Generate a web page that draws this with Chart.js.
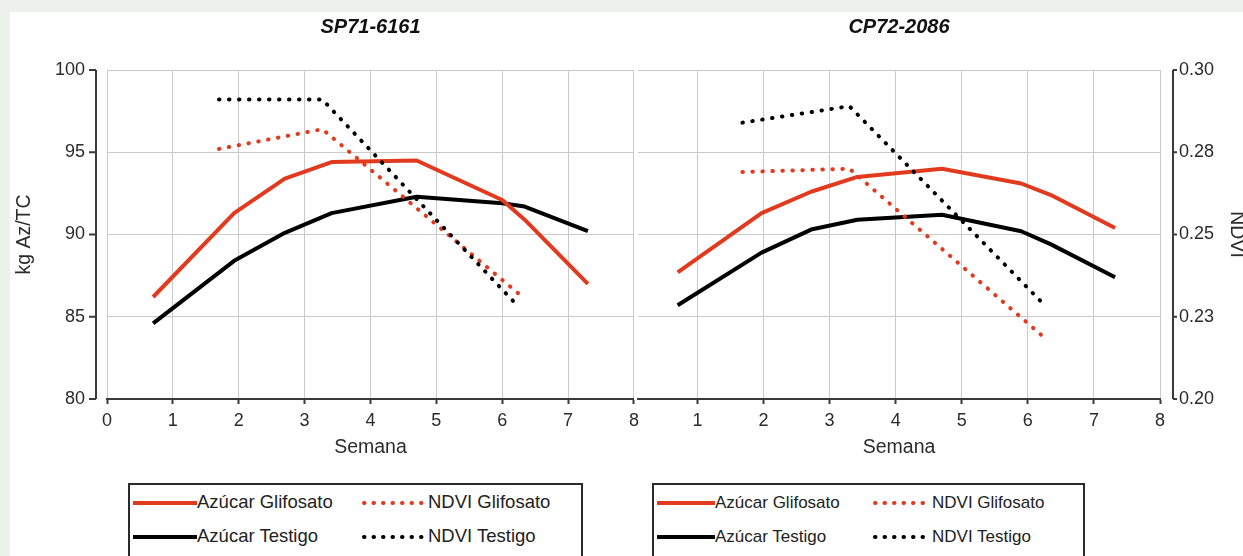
<!DOCTYPE html>
<html>
<head>
<meta charset="utf-8">
<script src="https://cdn.jsdelivr.net/npm/chart.js@4.4.1/dist/chart.umd.min.js"></script>
<style>
  html, body { margin: 0; padding: 0; }
  body { width: 1243px; height: 556px; overflow: hidden; background: #edf0ec; position: relative;
         font-family: "Liberation Sans", Arial, sans-serif; }
  #card { position: absolute; left: 10px; top: 12px; right: 0; bottom: 0; background: #fff; }
  canvas { position: absolute; top: 12px; }
  #c1 { left: 10px; }
  #c2 { left: 636px; }
  .legend { position: absolute; top: 483px; height: 100px; border: 2px solid #2a2a2a; box-sizing: border-box; }
  .legend svg, .legend span { position: absolute; }
  .legend span { white-space: nowrap; color: #222; line-height: 1; }
</style>
</head>
<body>
<div id="card"></div>
<canvas id="c1" width="635" height="447"></canvas>
<canvas id="c2" width="607" height="447"></canvas>
<div id="leg1" class="legend" style="left:128px;width:455px"></div>
<div id="leg2" class="legend" style="left:652px;width:433px"></div>
<script>
const titles = ['SP71-6161', 'CP72-2086'];
const seriesNames = ['Azúcar Glifosato', 'Azúcar Testigo', 'NDVI Glifosato', 'NDVI Testigo'];
const semanaTicks = [0, 1, 2, 3, 4, 5, 6, 7, 8];
const ndviTickLabels = ['0.20', '0.23', '0.25', '0.28', '0.30'];

// SP71-6161
const spSemanaAz = [0.7, 1.93, 2.7, 3.41, 4.7, 6.0, 6.34, 7.3];
const spAzGlifosato = [86.2, 91.3, 93.4, 94.4, 94.5, 92.1, 90.9, 87.0];
const spAzTestigo = [84.6, 88.4, 90.1, 91.3, 92.3, 91.9, 91.7, 90.2];
const spSemanaNdvi = [1.7, 3.27, 6.25];
const spNdviGlifosato = [0.276, 0.282, 0.232];
const spNdviTestigo = [0.291, 0.291, 0.228];

// CP72-2086
const cpSemanaAz = [0.7, 1.97, 2.72, 3.42, 4.7, 5.9, 6.35, 7.32];
const cpAzGlifosato = [87.7, 91.3, 92.6, 93.5, 94.0, 93.1, 92.4, 90.4];
const cpAzTestigo = [85.7, 88.9, 90.3, 90.9, 91.2, 90.2, 89.4, 87.4];
const cpSemanaNdvi = [1.68, 3.3, 6.23];
const cpNdviGlifosato = [0.269, 0.270, 0.219];
const cpNdviTestigo = [0.284, 0.289, 0.229];

const red = '#e23a1e';
const axisColor = '#3a3a3a';
const gridColor = '#cacaca';
const textColor = '#2b2b2b';
const family = '"Liberation Sans", Arial, sans-serif';

const pts = (xs, ys) => xs.map((x, i) => ({ x, y: ys[i] }));
const dotted = { borderWidth: 4, borderDash: [0.5, 9.5], borderCapStyle: 'round' };

function datasets(semAz, azG, azT, semN, nG, nT) {
  return [
    { label: seriesNames[3], data: pts(semN, nT), yAxisID: 'y2', borderColor: '#000', ...dotted },
    { label: seriesNames[2], data: pts(semN, nG), yAxisID: 'y2', borderColor: red, ...dotted },
    { label: seriesNames[0], data: pts(semAz, azG), yAxisID: 'y', borderColor: red, borderWidth: 4 },
    { label: seriesNames[1], data: pts(semAz, azT), yAxisID: 'y', borderColor: '#000', borderWidth: 4 }
  ];
}

// y axes sit a little away from the plot area, so draw them here
const offsetAxis = {
  id: 'offsetAxis',
  afterDraw(chart, args, opts) {
    const s = chart.scales[opts.axis];
    const { ctx, chartArea: a } = chart;
    const dir = opts.side === 'left' ? -1 : 1;
    const x = opts.side === 'left' ? a.left - opts.gap : a.right + opts.gap;
    ctx.save();
    ctx.strokeStyle = axisColor;
    ctx.lineWidth = 2;
    ctx.beginPath();
    ctx.moveTo(x, a.top);
    ctx.lineTo(x, a.bottom);
    s.ticks.forEach(t => {
      const y = s.getPixelForValue(t.value);
      ctx.moveTo(x, y);
      ctx.lineTo(x + dir * opts.len, y);
    });
    ctx.stroke();
    ctx.restore();
  }
};

function makeOptions(isLeft, title) {
  return {
    responsive: false,
    animation: false,
    layout: { padding: { left: isLeft ? 0 : 2, right: 0, top: 0, bottom: 0 } },
    elements: { point: { radius: 0 }, line: { tension: 0, borderJoinStyle: 'round' } },
    plugins: {
      legend: { display: false },
      tooltip: { enabled: false },
      title: {
        display: true, text: title, fullSize: false, color: '#111',
        font: { family, size: 20, weight: 'bold', style: 'italic' },
        padding: { top: 3.7, bottom: 30.3 }
      },
      offsetAxis: isLeft ? { axis: 'y', side: 'left', gap: 11, len: 7 }
                         : { axis: 'y2', side: 'right', gap: 13, len: 4 }
    },
    scales: {
      x: {
        type: 'linear', min: isLeft ? 0 : 0.1, max: 8,
        afterFit: s => { s.height = 60; },
        afterBuildTicks: s => {
          s.ticks = semanaTicks.filter(v => isLeft || v > 0).map(v => ({ value: v }));
        },
        grid: { color: gridColor, tickColor: axisColor, tickLength: 5, tickWidth: 2 },
        border: { display: true, color: axisColor, width: 2 },
        ticks: { color: textColor, font: { family, size: 18 }, padding: 6 },
        title: { display: true, text: 'Semana', color: textColor, font: { family, size: 19.5 }, padding: 0 }
      },
      y: {
        position: 'left', min: 80, max: 100, display: isLeft,
        afterFit: s => { if (isLeft) s.width = 97; },
        grid: { color: gridColor, drawTicks: false },
        border: { display: false },
        ticks: { stepSize: 5, padding: 22, color: textColor, font: { family, size: 18 } },
        title: { display: true, text: 'kg Az/TC', color: textColor, font: { family, size: 19.5 },
                 padding: { top: 3.3, bottom: 0 } }
      },
      y2: {
        position: 'right', min: 0.2, max: 0.3, display: !isLeft,
        afterFit: s => { if (!isLeft) s.width = 83; },
        grid: { color: gridColor, drawTicks: false },
        border: { display: false },
        ticks: { stepSize: 0.025, padding: 19, color: textColor, font: { family, size: 18 },
                 callback: (v, i) => ndviTickLabels[i] },
        title: { display: true, text: 'NDVI', color: textColor,
                 font: { family, size: 19.5, lineHeight: 0.7 }, padding: 0 }
      }
    }
  };
}

new Chart(document.getElementById('c1'), {
  type: 'line',
  data: { datasets: datasets(spSemanaAz, spAzGlifosato, spAzTestigo, spSemanaNdvi, spNdviGlifosato, spNdviTestigo) },
  options: makeOptions(true, titles[0]),
  plugins: [offsetAxis]
});

new Chart(document.getElementById('c2'), {
  type: 'line',
  data: { datasets: datasets(cpSemanaAz, cpAzGlifosato, cpAzTestigo, cpSemanaNdvi, cpNdviGlifosato, cpNdviTestigo) },
  options: makeOptions(false, titles[1]),
  plugins: [offsetAxis]
});

// legend boxes: [column x, sample width, text x] per column, rows at fixed y
function buildLegend(el, cols, fontSize) {
  const rows = [18, 52];
  const items = [
    [0, 0, seriesNames[0], red, false], [1, 0, seriesNames[2], red, true],
    [0, 1, seriesNames[1], '#000', false], [1, 1, seriesNames[3], '#000', true]
  ];
  items.forEach(([c, r, name, color, isDot]) => {
    const [x, w, tx] = cols[c];
    const y = rows[r];
    const svg = document.createElementNS('http://www.w3.org/2000/svg', 'svg');
    svg.setAttribute('width', w);
    svg.setAttribute('height', 8);
    svg.style.left = x + 'px';
    svg.style.top = (y - 4) + 'px';
    const line = document.createElementNS('http://www.w3.org/2000/svg', 'line');
    line.setAttribute('x1', isDot ? 2 : 0);
    line.setAttribute('x2', isDot ? w - 2 : w);
    line.setAttribute('y1', 4);
    line.setAttribute('y2', 4);
    line.setAttribute('stroke', color);
    line.setAttribute('stroke-width', 4);
    if (isDot) {
      line.setAttribute('stroke-dasharray', '0.5 9');
      line.setAttribute('stroke-linecap', 'round');
    }
    svg.appendChild(line);
    el.appendChild(svg);
    const span = document.createElement('span');
    span.textContent = name;
    span.style.left = tx + 'px';
    span.style.top = (y - fontSize * 0.55) + 'px';
    span.style.fontSize = fontSize + 'px';
    el.appendChild(span);
  });
}

buildLegend(document.getElementById('leg1'), [[3, 64, 67], [232, 66, 298]], 18.5);
buildLegend(document.getElementById('leg2'), [[3, 58, 61], [219, 59, 278]], 17);
</script>
</body>
</html>
